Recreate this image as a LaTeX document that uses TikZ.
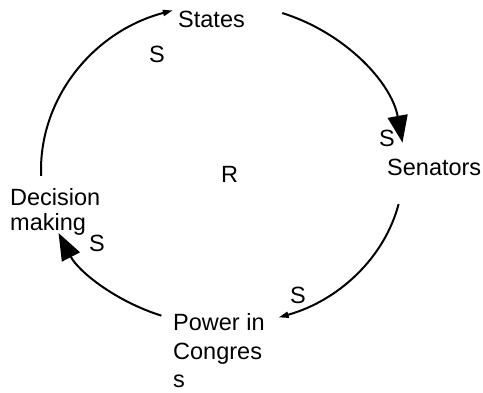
\documentclass[tikz,border=0pt]{standalone}
\usepackage{fontspec}
\setmainfont{Liberation Sans}
\usetikzlibrary{arrows.meta,calc}
\begin{document}
\begin{tikzpicture}[x=1pt,y=1pt,
  lbl/.style={anchor=base west,inner sep=0pt,font=\fontsize{23.5}{29}\selectfont,align=left},
  conn/.style={line width=2pt},
  bigtip/.style={-{Triangle[length=27pt,width=20pt]}},
  smalltip/.style={-{Triangle[length=10pt,width=6pt]}}]
\useasboundingbox (0,0) rectangle (483,392);
\coordinate (C) at (223,222);
% labels (multi-line nodes: base is the last line)
\node[lbl] (states) at (178,364) {States};
\node[lbl] (senators) at (387,217) {Senators};
\node[lbl,font=\fontsize{23.5}{25}\selectfont] (decision) at (10,162) {Decision\\making};
\node[lbl,font=\fontsize{23.5}{28.5}\selectfont] (power) at (173,4.5) {Power in\\Congres\\s};
\node[lbl] (r) at (221,209) {R};
\node[lbl] (s1) at (149,329) {S};
\node[lbl] (s2) at (379,246) {S};
\node[lbl] (s3) at (290,89) {S};
\node[lbl] (s4) at (89,141) {S};
% arc end points
\coordinate (a1s) at ($(C)+(182:182 and 166)$);
\coordinate (a2s) at ($(C)+(71:182 and 166)$);
\coordinate (a3s) at ($(C)+(-12.7:180 and 155)$);
\coordinate (a4s) at ($(C)+(-110:180 and 155)$);
% connectors
\draw[conn,smalltip] (a1s) arc[start angle=182,end angle=106,x radius=182,y radius=166];
\draw[conn,bigtip] (a2s) arc[start angle=71,end angle=9.5,x radius=182,y radius=166];
\draw[conn,smalltip] (a3s) arc[start angle=-12.7,end angle=-72,x radius=180,y radius=155];
\draw[conn,bigtip] (a4s) arc[start angle=-110,end angle=-156,x radius=180,y radius=155];
\end{tikzpicture}
\end{document}
